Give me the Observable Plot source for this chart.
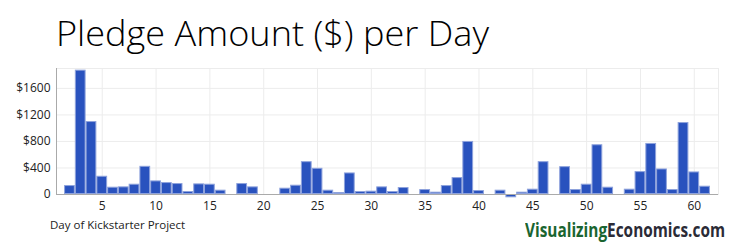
<!DOCTYPE html>
<html><head><meta charset="utf-8">
<script src="https://cdn.jsdelivr.net/npm/d3@7"></script>
<script src="https://cdn.jsdelivr.net/npm/@observablehq/plot@0.6"></script>
<style>
body{margin:0;background:#fff;}
#wrap{position:relative;width:733px;height:242px;overflow:hidden;font-family:"Open Sans",sans-serif;}
#title{position:absolute;left:56px;top:16px;font-size:34px;font-weight:300;color:#000;white-space:nowrap;transform-origin:0 0;line-height:1;}
#xlabel{position:absolute;left:50px;top:219px;font-size:11.5px;color:#222;white-space:nowrap;line-height:1;}
#brand{position:absolute;left:525px;top:221px;font-size:19px;font-weight:700;white-space:nowrap;transform-origin:0 0;line-height:1;font-family:"Open Sans",sans-serif;}
#brand .a{color:#1a6530;} #brand .b{color:#2b2b36;}
#chart{position:absolute;left:0;top:0;}
</style></head>
<body>
<div id="wrap">
  <div id="chart"></div>
  <div id="title">Pledge Amount ($) per Day</div>
  <div id="xlabel">Day of Kickstarter Project</div>
  <div id="brand"><span class="a">Visualizing</span><span class="b">Economics.com</span></div>
</div>
<script>
const days = [2,3,4,5,6,7,8,9,10,11,12,13,14,15,16,17,18,19,20,21,22,23,24,25,26,27,28,29,30,31,32,33,34,35,36,37,38,39,40,41,42,43,44,45,46,47,48,49,50,51,52,53,54,55,56,57,58,59,60,61];
const pledges = [135,1875,1100,275,110,115,155,425,205,180,165,45,160,155,65,0,165,115,0,0,95,140,495,395,65,30,325,45,50,115,45,105,0,75,35,135,255,800,60,15,65,-50,35,80,495,15,420,75,155,750,110,0,80,345,770,385,75,1085,340,125];
const xTicks = [5,10,15,20,25,30,35,40,45,50,55,60];
const yTicks = [0,400,800,1200,1600];

const data = days.map((d,i)=>({day:d, value:pledges[i]})).filter(d=>d.value !== 0);
const xDomain = [0.75, 62.25];

const chart = Plot.plot({
  width:733, height:242,
  marginTop:68, marginBottom:48, marginLeft:56, marginRight:15,
  style:{fontFamily:'"Open Sans", sans-serif', fontSize:"12px", color:"#222", background:"transparent"},
  x:{domain:xDomain},
  y:{domain:[0,1900]},
  marks:[
    Plot.gridY(yTicks.filter(v=>v>0), {stroke:"#ececec", strokeOpacity:1}),
    Plot.gridX(xTicks, {stroke:"#ececec", strokeOpacity:1}),
    Plot.frame({stroke:"#ececec"}),
    Plot.rectY(data, {x1:d=>d.day-0.5, x2:d=>d.day+0.5, y:"value", fill:"#2952be", stroke:"#8ea2dc", strokeWidth:1, inset:0.5}),
    Plot.ruleY([0], {stroke:"#aaaaaa"}),
    Plot.ruleX([xDomain[0]], {stroke:"#aaaaaa"}),
    Plot.axisX(xTicks, {tickSize:0, tickPadding:7, fontSize:12, label:null}),
    Plot.axisY(yTicks, {tickSize:0, tickPadding:6, fontSize:12, label:null, tickFormat:d=>d===0?"0":"$"+d})
  ]
});
document.getElementById("chart").appendChild(chart);

function fit(id, w){
  const el=document.getElementById(id);
  const r=el.getBoundingClientRect().width;
  el.style.transform=`scaleX(${w/r})`;
}
fit("title", 433);
fit("brand", 200);
</script>
</body></html>
